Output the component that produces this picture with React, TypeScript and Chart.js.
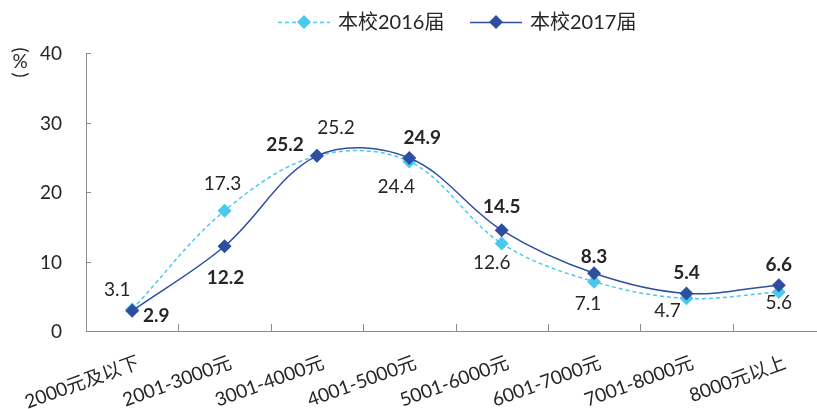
import React, { useEffect, useRef } from "react";
import { Chart, registerables } from "chart.js";

Chart.register(...registerables);

const categories = [
  "2000元及以下",
  "2001-3000元",
  "3001-4000元",
  "4001-5000元",
  "5001-6000元",
  "6001-7000元",
  "7001-8000元",
  "8000元以上",
];
const series2016 = [3.1, 17.3, 25.2, 24.4, 12.6, 7.1, 4.7, 5.6];
const series2017 = [2.9, 12.2, 25.2, 24.9, 14.5, 8.3, 5.4, 6.6];
const seriesNames = ["本校2016届", "本校2017届"];
const yTicks = [0, 10, 20, 30, 40];

// label offsets (layout only)
const offsets2016 = [[-15, -20], [-2, -27], [19, -28], [-13, 25], [-10, 19], [-6, 22], [-19, 13], [0, 11]];
const offsets2017 = [[24, 5], [1, 32], [-32, -11], [13, -20], [0, -23], [0, -16], [0, -21], [0, -20]];

const C16 = "#4AC8EE";
const C17 = "#2E4E9E";
const TXT = "#262626";
const AXIS = "#8C8C8C";
const FONT = "Lato, 'Noto Sans CJK SC', sans-serif";

function diamond(ctx: CanvasRenderingContext2D, x: number, y: number, r: number, color: string) {
  ctx.beginPath();
  ctx.moveTo(x, y - r);
  ctx.lineTo(x + r, y);
  ctx.lineTo(x, y + r);
  ctx.lineTo(x - r, y);
  ctx.closePath();
  ctx.fillStyle = color;
  ctx.fill();
}

const customPlugin = {
  id: "custom",
  afterDraw(chart: any) {
    const ctx: CanvasRenderingContext2D = chart.ctx;
    const area = chart.chartArea;
    const xs = chart.scales.x;
    const ys = chart.scales.y;
    ctx.save();
    // axes
    ctx.strokeStyle = AXIS;
    ctx.lineWidth = 1;
    ctx.beginPath();
    ctx.moveTo(area.left + 0.5, area.top);
    ctx.lineTo(area.left + 0.5, area.bottom + 0.5);
    ctx.lineTo(area.right, area.bottom + 0.5);
    ctx.stroke();
    // y ticks inward
    ctx.beginPath();
    yTicks.forEach((v) => {
      const y = Math.round(ys.getPixelForValue(v)) + 0.5;
      ctx.moveTo(area.left, y);
      ctx.lineTo(area.left + 5, y);
    });
    ctx.stroke();
    // x ticks inward at category boundaries
    const step = (area.right - area.left) / categories.length;
    ctx.beginPath();
    for (let k = 1; k <= categories.length; k++) {
      const x = Math.round(area.left + step * k) + 0.5;
      ctx.moveTo(x, area.bottom);
      ctx.lineTo(x, area.bottom - 7);
    }
    ctx.stroke();

    // y tick labels
    ctx.fillStyle = TXT;
    ctx.font = "19px " + FONT;
    ctx.textAlign = "right";
    ctx.textBaseline = "middle";
    yTicks.forEach((v) => {
      ctx.fillText(String(v), area.left - 24, ys.getPixelForValue(v) + 1);
    });

    // y axis title (%) vertical
    ctx.font = "19px " + FONT;
    ctx.textAlign = "center";
    ctx.textBaseline = "middle";
    const tx = 20;
    ctx.save();
    ctx.translate(tx, 50);
    ctx.rotate(Math.PI / 2);
    ctx.fillText("(", 0, 0);
    ctx.restore();
    ctx.fillText("%", tx, 62);
    ctx.save();
    ctx.translate(tx, 75);
    ctx.rotate(Math.PI / 2);
    ctx.fillText(")", 0, 0);
    ctx.restore();

    // x labels rotated
    ctx.font = "19px " + FONT;
    ctx.textAlign = "right";
    ctx.textBaseline = "top";
    categories.forEach((c, i) => {
      const x = xs.getPixelForValue(i);
      ctx.save();
      ctx.translate(x + 3, area.bottom + 22);
      ctx.rotate((-20 * Math.PI) / 180);
      ctx.fillText(c, 0, 0);
      ctx.restore();
    });

    // data labels
    const m16 = chart.getDatasetMeta(0);
    const m17 = chart.getDatasetMeta(1);
    ctx.textAlign = "center";
    ctx.textBaseline = "middle";
    ctx.font = "19px " + FONT;
    series2016.forEach((v, i) => {
      const p = m16.data[i];
      ctx.fillText(v.toFixed(1), p.x + offsets2016[i][0], p.y + offsets2016[i][1]);
    });
    ctx.font = "bold 19px " + FONT;
    series2017.forEach((v, i) => {
      const p = m17.data[i];
      ctx.fillText(v.toFixed(1), p.x + offsets2017[i][0], p.y + offsets2017[i][1]);
    });

    // legend
    const ly = 22;
    const items = [
      { x: 278, color: C16, dash: [4, 3], name: seriesNames[0] },
      { x: 470, color: C17, dash: [], name: seriesNames[1] },
    ];
    items.forEach((it) => {
      ctx.strokeStyle = it.color;
      ctx.lineWidth = 1.5;
      ctx.setLineDash(it.dash);
      ctx.beginPath();
      ctx.moveTo(it.x, ly + 0.5);
      ctx.lineTo(it.x + 52, ly + 0.5);
      ctx.stroke();
      ctx.setLineDash([]);
      diamond(ctx, it.x + 26, ly, 7, it.color);
      ctx.fillStyle = TXT;
      ctx.font = "20px " + FONT;
      ctx.textAlign = "left";
      ctx.textBaseline = "middle";
      ctx.fillText(it.name, it.x + 60, ly + 1);
    });
    ctx.restore();
  },
};

export default function App() {
  const ref = useRef<HTMLCanvasElement>(null);
  useEffect(() => {
    if (!ref.current) return;
    const chart = new Chart(ref.current, {
      type: "line",
      data: {
        labels: categories,
        datasets: [
          {
            label: seriesNames[0],
            data: series2016,
            borderColor: C16,
            backgroundColor: C16,
            borderWidth: 1.5,
            borderDash: [4, 3],
            pointStyle: "rectRot",
            pointRadius: 7,
            pointBorderWidth: 0,
            tension: 0.35,
            order: 2,
          },
          {
            label: seriesNames[1],
            data: series2017,
            borderColor: C17,
            backgroundColor: C17,
            borderWidth: 1.5,
            pointStyle: "rectRot",
            pointRadius: 7,
            pointBorderWidth: 0,
            tension: 0.35,
            order: 1,
          },
        ],
      },
      options: {
        responsive: false,
        animation: false,
        layout: { padding: { left: 86, top: 53, right: 15, bottom: 78 } },
        plugins: { legend: { display: false }, tooltip: { enabled: false } },
        scales: {
          x: { display: false, offset: true },
          y: { display: false, min: 0, max: 40 },
        },
      },
      plugins: [customPlugin],
    });
    return () => chart.destroy();
  }, []);
  return (
    <div style={{ position: "fixed", left: 0, top: 0, width: 817, height: 409, overflow: "hidden", background: "#fff" }}>
      <canvas ref={ref} width={840} height={409} style={{ display: "block" }} />
    </div>
  );
}
